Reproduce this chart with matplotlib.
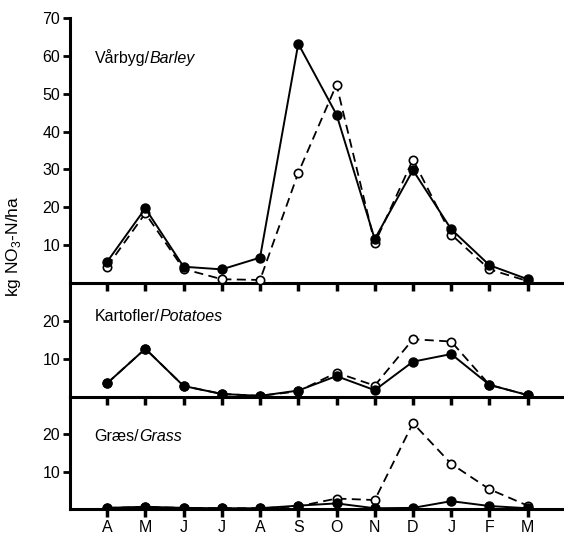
import matplotlib.pyplot as plt

plt.rcParams["font.family"] = ["Liberation Sans", "DejaVu Sans"]
plt.rcParams["mathtext.fontset"] = "custom"
plt.rcParams["mathtext.rm"] = "Liberation Sans"

months = ["A", "M", "J", "J", "A", "S", "O", "N", "D", "J", "F", "M"]

# Vårbyg / Barley
barley_filled = [5.6, 19.7, 4.3, 3.6, 6.7, 63.2, 44.5, 11.6, 29.8, 14.2, 4.7, 1.0]
barley_open = [4.3, 18.4, 3.7, 1.0, 0.8, 29.1, 52.4, 10.5, 32.6, 12.8, 3.6, 0.5]

# Kartofler / Potatoes
potato_filled = [3.6, 12.7, 2.9, 0.8, 0.3, 1.7, 5.5, 1.8, 9.3, 11.3, 3.2, 0.5]
potato_open = [3.6, 12.7, 2.9, 0.8, 0.3, 1.5, 6.4, 3.0, 15.2, 14.6, 3.2, 0.5]

# Græs / Grass
grass_filled = [0.3, 0.6, 0.3, 0.2, 0.2, 0.9, 1.5, 0.2, 0.3, 2.1, 0.8, 0.2]
grass_open = [0.3, 0.5, 0.3, 0.2, 0.2, 0.7, 2.8, 2.4, 23.0, 12.1, 5.3, 0.9]

panels = [
    ("Vårbyg/", "Barley", barley_filled, barley_open, 70, [10, 20, 30, 40, 50, 60, 70]),
    ("Kartofler/", "Potatoes", potato_filled, potato_open, 30, [10, 20]),
    ("Græs/", "Grass", grass_filled, grass_open, 30, [10, 20]),
]
# height of the panel label, in data units
label_y = [59.6, 21.1, 19.3]

fig = plt.figure(figsize=(5.64, 5.34), dpi=100)
left = 70 / 564
width = 1 - left
# panel baselines / tops in pixels
boxes = [(283, 18), (397, 283), (509, 397)]

x = list(range(len(months)))
fs = 11.5

for i, (name, name_it, filled, opn, ymax, yticks) in enumerate(panels):
    base, top = boxes[i]
    ax = fig.add_axes([left, 1 - base / 534, width, (base - top) / 534])
    ax.plot(x, opn, color="black", linestyle=(0, (5, 3)), linewidth=1.3,
            marker="o", markersize=6, markerfacecolor="white",
            markeredgecolor="black", markeredgewidth=1.2, zorder=3)
    ax.plot(x, filled, color="black", linestyle="-", linewidth=1.4,
            marker="o", markersize=6.5, markerfacecolor="black",
            markeredgecolor="black", zorder=4)
    ax.set_xlim(-0.97, 11.95)
    ax.set_ylim(0, ymax)
    ax.set_yticks(yticks)
    ax.set_xticks(x)
    for s in ["top", "right"]:
        ax.spines[s].set_visible(False)
    for s in ["left", "bottom"]:
        ax.spines[s].set_linewidth(2.2)
    ax.tick_params(axis="y", direction="out", length=5, width=2, labelsize=fs, pad=2)
    ax.tick_params(axis="x", direction="out", length=6, width=2.5, labelsize=fs, pad=2)
    if i < 2:
        ax.set_xticklabels([])
    else:
        ax.set_xticklabels(months)
    ax.patch.set_alpha(0)
    t = ax.text(-0.33, label_y[i], name, fontsize=fs, va="center", ha="left")
    ax.annotate(name_it, xy=(1, 0), xycoords=t, va="bottom", ha="left",
                fontsize=fs, style="italic")

fig.text(14 / 564, 1 - 246 / 534, "kg NO$_3$-N/ha", rotation=90, ha="center",
         va="center", fontsize=12.5)

fig.savefig("out.png", dpi=100)
